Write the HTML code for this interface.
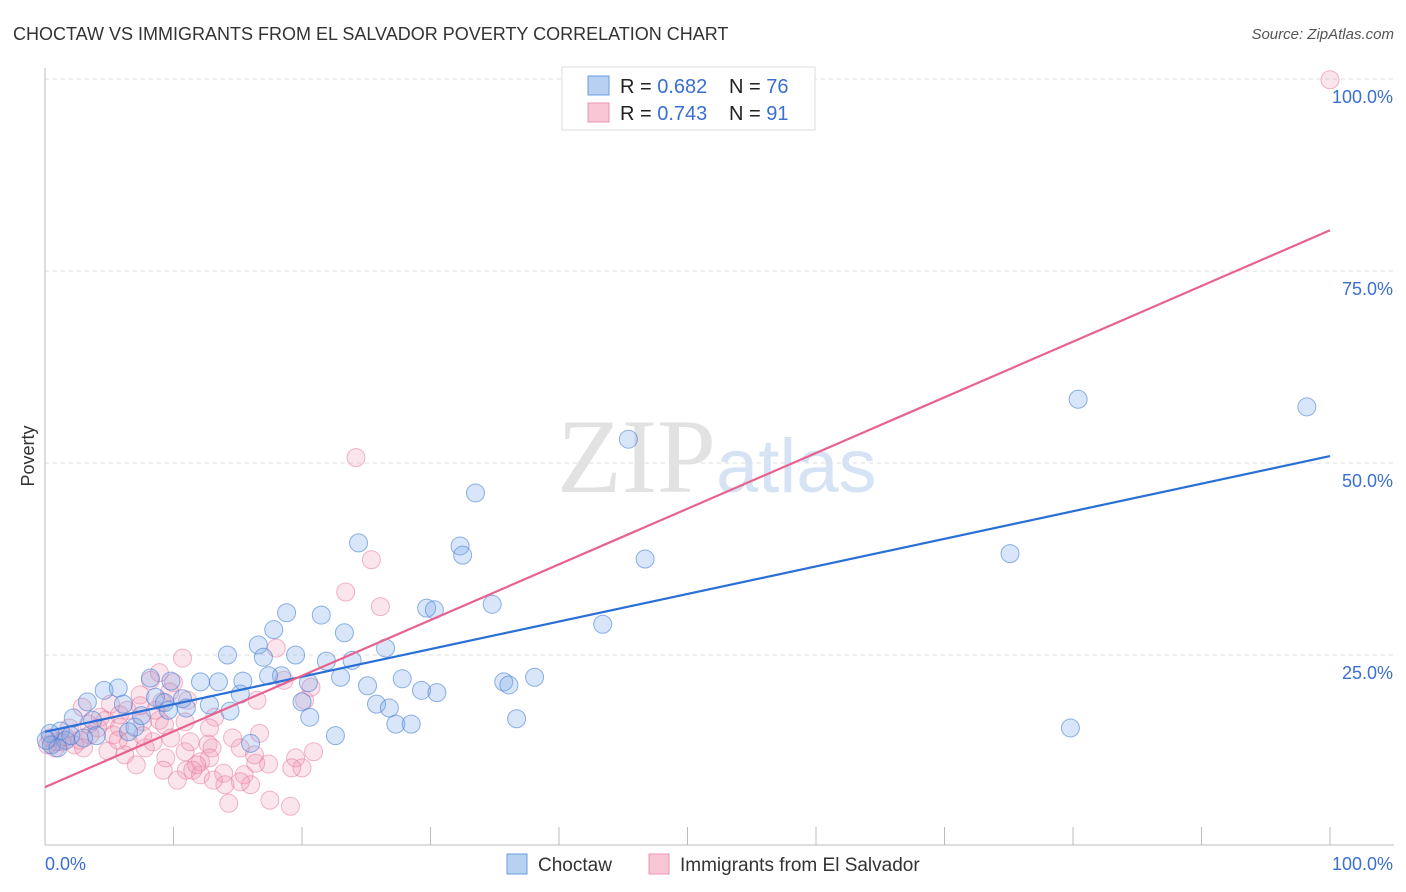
<!DOCTYPE html>
<html><head><meta charset="utf-8"><style>
body{margin:0;background:#fff;font-family:"Liberation Sans",sans-serif}
svg{display:block}
</style></head><body>
<svg id="chart" width="1406" height="892" font-family="Liberation Sans, sans-serif">
<text x="13" y="40" font-size="18" fill="#333">CHOCTAW VS IMMIGRANTS FROM EL SALVADOR POVERTY CORRELATION CHART</text>
<text x="1394" y="39" font-size="15" fill="#555" font-style="italic" text-anchor="end">Source: ZipAtlas.com</text>
<text x="34" y="456" font-size="18" fill="#333" transform="rotate(-90 34 456)" text-anchor="middle">Poverty</text>
<g id="grid"></g>
<text x="716" y="492" font-size="106" fill="#e2e2e2" font-family="Liberation Serif, serif" text-anchor="end">ZIP</text>
<text x="716" y="492" font-size="76" fill="#d6e3f5">atlas</text>
<g id="marks"></g>
<g id="legend-box">
<rect x="562" y="67" width="253" height="63" fill="#fff" stroke="#ddd"/>
<rect x="588" y="76" width="21" height="19" fill="#b8d1f3" stroke="#6a9de0"/>
<rect x="588" y="103" width="21" height="19" fill="#f9c6d5" stroke="#ec94b0"/>
<text x="620" y="93" font-size="20" fill="#222">R = <tspan fill="#3a6fd0">0.682</tspan><tspan x="729">N = </tspan><tspan fill="#3a6fd0">76</tspan></text>
<text x="620" y="120" font-size="20" fill="#222">R = <tspan fill="#3a6fd0">0.743</tspan><tspan x="729">N = </tspan><tspan fill="#3a6fd0">91</tspan></text>
</g>
<g>
<rect x="507" y="854" width="20" height="20" fill="#b8d1f3" stroke="#6a9de0"/>
<text x="538" y="871" font-size="19" fill="#333">Choctaw</text>
<rect x="649" y="854" width="20" height="20" fill="#f9c6d5" stroke="#ec94b0"/>
<text x="680" y="871" font-size="19" fill="#333">Immigrants from El Salvador</text>
</g>
</svg>
<script>
const xTicks=[0,10,20,30,40,50,60,70,80,90,100];
const yTicks=[25,50,75,100];
const yTickLabels=["25.0%","50.0%","75.0%","100.0%"];
const xEndLabels=["0.0%","100.0%"];
const choctawX=[80.4,98.2,45.4,33.5,24.4,32.3,32.5,46.7,75.1,34.8,29.7,30.3,18.8,21.5,43.4,17.8,23.3,16.6,14.2,17.0,19.5,26.5,23.9,21.9,18.4,17.4,23.0,27.8,25.1,15.4,13.5,12.1,9.8,8.2,20.5,29.3,30.5,35.7,36.1,38.1,25.8,26.8,15.2,8.6,9.3,10.7,12.8,11.0,9.6,14.4,20.0,20.6,27.3,28.5,36.7,79.8,4.6,5.7,3.3,2.2,3.7,6.1,7.0,7.5,4.0,6.5,1.2,0.4,0.5,1.6,2.0,3.0,22.6,16.0,1.0,0.1];
const choctawY=[58.3,57.3,53.1,46.1,39.6,39.2,38.0,37.5,38.2,31.6,31.1,30.9,30.5,30.2,29.0,28.3,27.9,26.3,25.0,24.7,25.0,25.9,24.3,24.2,22.3,22.3,22.1,21.9,21.0,21.6,21.5,21.5,21.6,22.0,21.4,20.4,20.1,21.5,21.1,22.1,18.6,18.1,19.9,19.5,18.8,19.3,18.5,18.1,17.8,17.7,18.9,16.9,16.0,16.0,16.7,15.5,20.4,20.7,18.9,16.8,16.5,18.6,15.6,17.1,14.5,15.0,15.1,14.8,13.3,13.9,14.5,14.2,14.5,13.5,12.9,13.9];
const salvX=[100,24.2,25.4,23.4,26.1,18.0,10.7,8.9,8.2,10.0,18.6,20.7,20.2,16.5,9.7,7.4,11.1,5.1,2.9,6.4,8.9,10.9,13.2,14.6,16.7,4.7,3.4,4.1,5.8,7.6,5.3,6.5,1.9,1.3,0.8,0.2,2.3,3.0,3.5,8.4,9.8,12.7,13.0,10.9,9.4,6.2,7.1,9.2,11.0,12.1,12.8,12.1,11.5,13.9,15.5,16.0,15.2,14.0,13.1,10.3,11.8,19.5,20.0,19.2,17.4,16.4,20.9,14.3,17.5,19.1,7.8,4.9,5.7,2.7,1.6,0.9,4.3,5.8,7.4,8.6,0.4,9.3,11.3,12.8,15.2,16.3,7.6,9.1];
const salvY=[99.9,50.7,37.4,33.2,31.3,25.9,24.6,22.7,21.7,21.4,21.7,20.8,19.1,19.1,20.2,19.8,19.1,18.6,18.2,17.8,16.5,16.3,16.9,14.2,14.8,16.5,16.0,15.5,15.6,16.3,14.6,13.7,15.5,13.7,12.9,13.3,13.3,12.9,14.6,13.7,14.2,13.4,12.9,12.4,11.6,12.0,10.7,10.0,10.0,11.1,11.6,9.4,10.0,9.6,9.4,8.1,8.5,8.1,8.7,8.7,10.7,11.6,10.3,10.3,10.8,10.9,12.4,5.7,6.1,5.3,12.9,12.5,13.9,13.9,14.3,13.7,16.9,17.2,18.4,17.8,14.2,15.9,13.7,15.5,12.9,12.0,14.5,18.9];
const choctawLine=[15.0,50.9];
const salvLine=[7.8,80.3];
const NS='http://www.w3.org/2000/svg';
const X0=45,X1=1330,Y0=847,Y1=79;
function sx(v){return X0+(X1-X0)*v/100;}
function sy(v){return Y0-(Y0-Y1)*v/100;}
function mk(tag,attrs,parent){const e=document.createElementNS(NS,tag);for(const k in attrs)e.setAttribute(k,attrs[k]);parent.appendChild(e);return e;}
const grid=document.getElementById('grid');
yTicks.forEach((t,i)=>{
  const l=mk('line',{x1:45,x2:1394,y1:sy(t),y2:sy(t),stroke:'#ddd','stroke-dasharray':'4,4'},grid);
  
  
  const tx=mk('text',{x:1393,y:sy(t)+24,'font-size':18,fill:'#3a6fd0','text-anchor':'end'},grid);
  tx.textContent=yTickLabels[i];
  
  
});
const ya=mk('line',{x1:45,x2:45,y1:68,y2:845,stroke:'#bbb'},grid);


const xa=mk('line',{x1:45,x2:1394,y1:845,y2:845,stroke:'#bbb'},grid);


xTicks.forEach(t=>{
  const l=mk('line',{x1:sx(t),x2:sx(t),y1:827,y2:845,stroke:'#bbb'},grid);
  
  
});
[[0,'start'],[100,'end']].forEach((p,i)=>{
  const tx=mk('text',{x:i?1393:45,y:870,'font-size':18,fill:'#3a6fd0','text-anchor':p[1]},grid);
  tx.textContent=xEndLabels[i];
  
  
});
const marks=document.getElementById('marks');
function pts(xs,ys,fill,stroke,name){
  xs.forEach((x,i)=>{
    const c=mk('circle',{cx:sx(x),cy:sy(ys[i]),r:9,fill:fill,stroke:stroke,'stroke-width':1},marks);
    
    
  });
}
pts(salvX,salvY,'rgba(240,150,178,0.25)','rgba(232,120,158,0.55)','el-salvador-point');
pts(choctawX,choctawY,'rgba(120,165,232,0.28)','rgba(70,128,212,0.6)','choctaw-point');
const bl=mk('line',{x1:sx(0),y1:sy(choctawLine[0]),x2:sx(100),y2:sy(choctawLine[1]),stroke:'#2a6fd6','stroke-width':2.2},marks);


const pl=mk('line',{x1:sx(0),y1:sy(salvLine[0]),x2:sx(100),y2:sy(salvLine[1]),stroke:'#e8628e','stroke-width':2.2},marks);


</script>
</body></html>
